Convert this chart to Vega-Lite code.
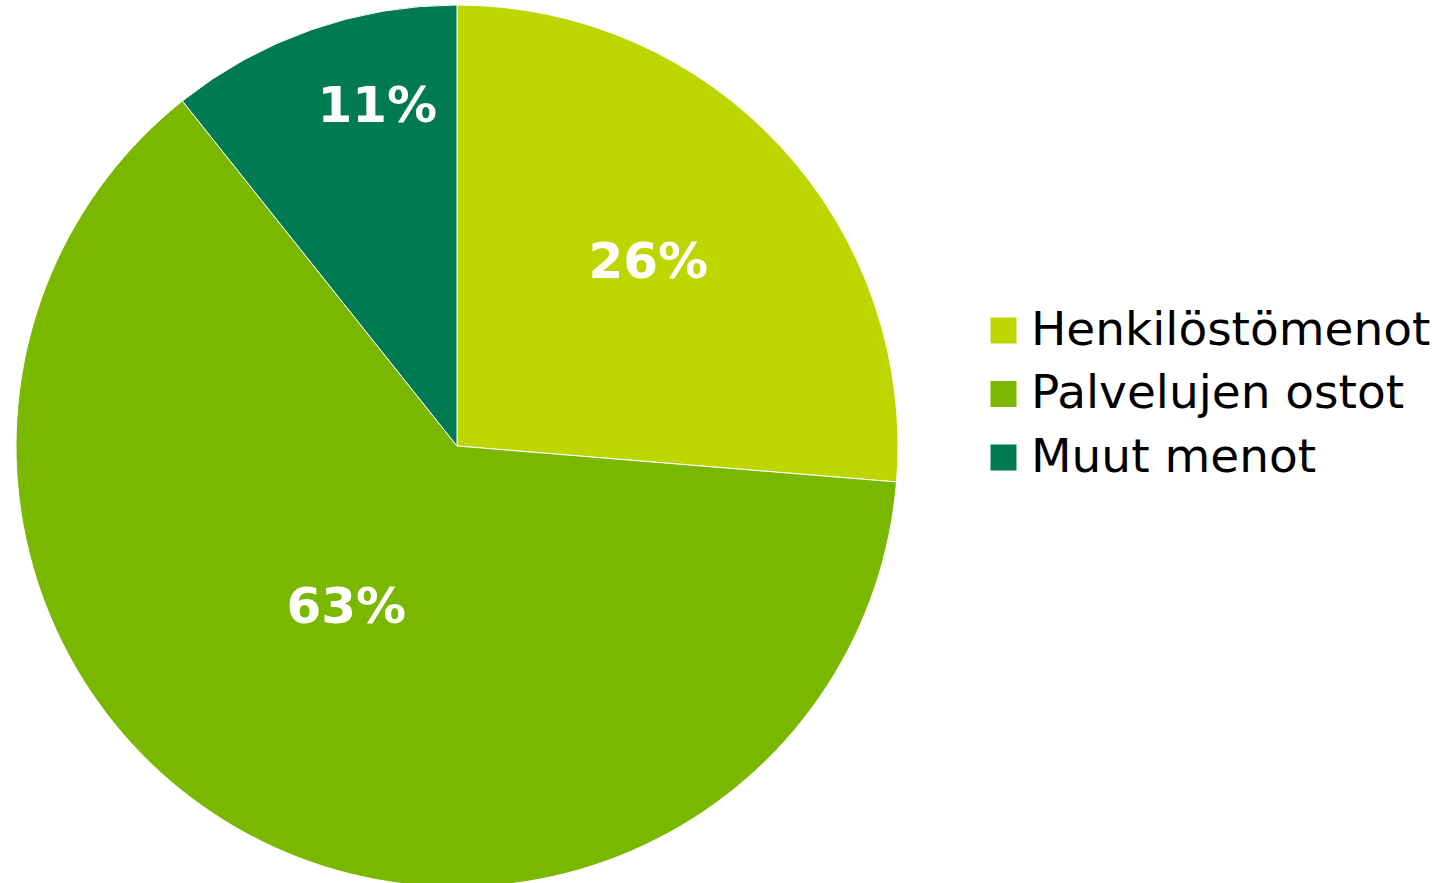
{
  "$schema": "https://vega.github.io/schema/vega-lite/v6.json",
  "width": 914,
  "height": 892,
  "padding": 0,
  "autosize": {"type": "pad"},
  "background": "white",
  "config": {"view": {"stroke": null}, "font": "DejaVu Sans"},
  "data": {
    "values": [
      {"nr": 1, "category": "Henkilöstömenot", "value": 26.3, "label": "26%"},
      {"nr": 2, "category": "Palvelujen ostot", "value": 63.0, "label": "63%"},
      {"nr": 3, "category": "Muut menot", "value": 10.7, "label": "11%"}
    ]
  },
  "encoding": {
    "theta": {"field": "value", "type": "quantitative", "stack": true},
    "order": {"field": "nr", "type": "quantitative"}
  },
  "layer": [
    {
      "mark": {"type": "arc", "radius": 441, "stroke": "white", "strokeWidth": 1},
      "encoding": {
        "color": {
          "field": "category",
          "type": "nominal",
          "sort": ["Henkilöstömenot", "Palvelujen ostot", "Muut menot"],
          "scale": {
            "domain": ["Henkilöstömenot", "Palvelujen ostot", "Muut menot"],
            "range": ["#BED600", "#7AB800", "#007A53"]
          },
          "legend": {
            "title": null,
            "orient": "none",
            "legendX": 980,
            "legendY": 307,
            "symbolType": "square",
            "symbolSize": 676,
            "symbolStrokeWidth": 0,
            "labelFontSize": 47,
            "labelFont": "DejaVu Sans",
            "labelColor": "black",
            "labelOffset": 4,
            "rowPadding": 15.5,
            "labelLimit": 600
          }
        }
      }
    },
    {
      "mark": {"type": "text", "radius": 265, "thetaOffset": -0.02, "font": "DejaVu Sans", "fontWeight": "bold", "fontSize": 50, "color": "white"},
      "encoding": {"text": {"condition": {"test": "datum.nr == 1", "field": "label"}, "value": ""}}
    },
    {
      "mark": {"type": "text", "radius": 196, "thetaOffset": 0.11, "font": "DejaVu Sans", "fontWeight": "bold", "fontSize": 50, "color": "white"},
      "encoding": {"text": {"condition": {"test": "datum.nr == 2", "field": "label"}, "value": ""}}
    },
    {
      "mark": {"type": "text", "radius": 348, "thetaOffset": 0.105, "font": "DejaVu Sans", "fontWeight": "bold", "fontSize": 50, "color": "white"},
      "encoding": {"text": {"condition": {"test": "datum.nr == 3", "field": "label"}, "value": ""}}
    }
  ]
}
